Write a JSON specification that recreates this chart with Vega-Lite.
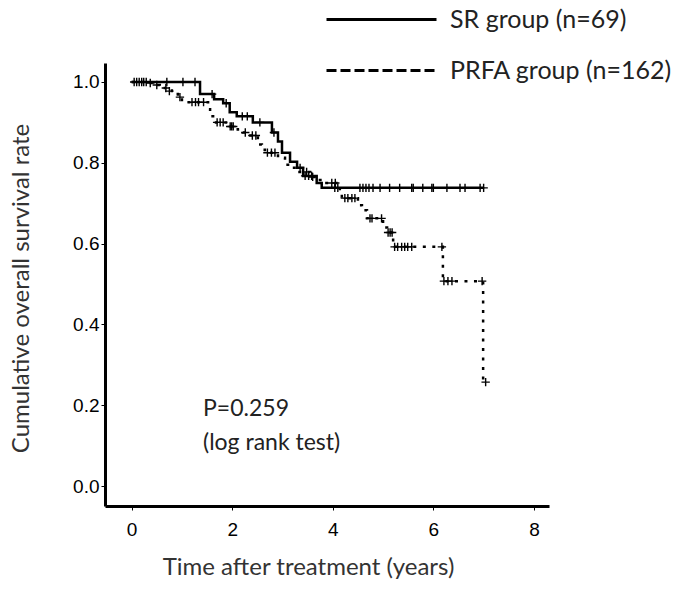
{
  "$schema": "https://vega.github.io/schema/vega-lite/v6.json",
  "width": 444,
  "height": 443,
  "autosize": "none",
  "padding": {"left": 105, "top": 63, "right": 136, "bottom": 84},
  "background": "white",
  "config": {"view": {"stroke": null}},
  "resolve": {"scale": {"strokeDash": "independent"}, "legend": {"strokeDash": "independent"}},
  "datasets": {
    "steps": [
      {"group": "SR group (n=69)", "t": 0, "s": 1.0},
      {"group": "SR group (n=69)", "t": 1.36, "s": 0.97},
      {"group": "SR group (n=69)", "t": 1.64, "s": 0.9575},
      {"group": "SR group (n=69)", "t": 1.82, "s": 0.9475},
      {"group": "SR group (n=69)", "t": 1.95, "s": 0.925},
      {"group": "SR group (n=69)", "t": 2.09, "s": 0.915},
      {"group": "SR group (n=69)", "t": 2.41, "s": 0.9},
      {"group": "SR group (n=69)", "t": 2.79, "s": 0.875},
      {"group": "SR group (n=69)", "t": 2.91, "s": 0.8525},
      {"group": "SR group (n=69)", "t": 2.99, "s": 0.825},
      {"group": "SR group (n=69)", "t": 3.15, "s": 0.8025},
      {"group": "SR group (n=69)", "t": 3.29, "s": 0.7875},
      {"group": "SR group (n=69)", "t": 3.41, "s": 0.7675},
      {"group": "SR group (n=69)", "t": 3.68, "s": 0.75},
      {"group": "SR group (n=69)", "t": 3.78, "s": 0.738},
      {"group": "SR group (n=69)", "t": 7.0, "s": 0.738},
      {"group": "PRFA group (n=162)", "t": 0, "s": 1.0},
      {"group": "PRFA group (n=162)", "t": 0.32, "s": 0.9975},
      {"group": "PRFA group (n=162)", "t": 0.42, "s": 0.9925},
      {"group": "PRFA group (n=162)", "t": 0.56, "s": 0.99},
      {"group": "PRFA group (n=162)", "t": 0.62, "s": 0.985},
      {"group": "PRFA group (n=162)", "t": 0.8, "s": 0.9775},
      {"group": "PRFA group (n=162)", "t": 0.86, "s": 0.97},
      {"group": "PRFA group (n=162)", "t": 0.92, "s": 0.9625},
      {"group": "PRFA group (n=162)", "t": 1.0, "s": 0.95},
      {"group": "PRFA group (n=162)", "t": 1.52, "s": 0.9325},
      {"group": "PRFA group (n=162)", "t": 1.56, "s": 0.915},
      {"group": "PRFA group (n=162)", "t": 1.62, "s": 0.9},
      {"group": "PRFA group (n=162)", "t": 1.91, "s": 0.89},
      {"group": "PRFA group (n=162)", "t": 2.11, "s": 0.8825},
      {"group": "PRFA group (n=162)", "t": 2.21, "s": 0.875},
      {"group": "PRFA group (n=162)", "t": 2.31, "s": 0.8675},
      {"group": "PRFA group (n=162)", "t": 2.51, "s": 0.845},
      {"group": "PRFA group (n=162)", "t": 2.59, "s": 0.8325},
      {"group": "PRFA group (n=162)", "t": 2.65, "s": 0.825},
      {"group": "PRFA group (n=162)", "t": 2.91, "s": 0.8125},
      {"group": "PRFA group (n=162)", "t": 3.05, "s": 0.795},
      {"group": "PRFA group (n=162)", "t": 3.15, "s": 0.7875},
      {"group": "PRFA group (n=162)", "t": 3.3, "s": 0.7775},
      {"group": "PRFA group (n=162)", "t": 3.55, "s": 0.765},
      {"group": "PRFA group (n=162)", "t": 3.65, "s": 0.7575},
      {"group": "PRFA group (n=162)", "t": 3.78, "s": 0.75},
      {"group": "PRFA group (n=162)", "t": 4.14, "s": 0.7225},
      {"group": "PRFA group (n=162)", "t": 4.18, "s": 0.7125},
      {"group": "PRFA group (n=162)", "t": 4.5, "s": 0.695},
      {"group": "PRFA group (n=162)", "t": 4.58, "s": 0.6825},
      {"group": "PRFA group (n=162)", "t": 4.68, "s": 0.6625},
      {"group": "PRFA group (n=162)", "t": 5.0, "s": 0.64},
      {"group": "PRFA group (n=162)", "t": 5.08, "s": 0.6275},
      {"group": "PRFA group (n=162)", "t": 5.2, "s": 0.592},
      {"group": "PRFA group (n=162)", "t": 6.19, "s": 0.507},
      {"group": "PRFA group (n=162)", "t": 6.99, "s": 0.257},
      {"group": "PRFA group (n=162)", "t": 7.03, "s": 0.257}
    ],
    "censors": [
      {"group": "SR", "t": 0.1, "s": 1.0},
      {"group": "SR", "t": 0.2, "s": 1.0},
      {"group": "SR", "t": 0.29, "s": 1.0},
      {"group": "SR", "t": 0.7, "s": 1.0},
      {"group": "SR", "t": 1.02, "s": 1.0},
      {"group": "SR", "t": 1.26, "s": 1.0},
      {"group": "SR", "t": 1.6, "s": 0.97},
      {"group": "SR", "t": 1.88, "s": 0.9475},
      {"group": "SR", "t": 2.2, "s": 0.915},
      {"group": "SR", "t": 2.3, "s": 0.915},
      {"group": "SR", "t": 2.55, "s": 0.9},
      {"group": "SR", "t": 2.83, "s": 0.875},
      {"group": "SR", "t": 3.35, "s": 0.7875},
      {"group": "SR", "t": 3.45, "s": 0.7675},
      {"group": "SR", "t": 3.52, "s": 0.7675},
      {"group": "SR", "t": 3.58, "s": 0.7675},
      {"group": "SR", "t": 4.04, "s": 0.738},
      {"group": "SR", "t": 4.1, "s": 0.738},
      {"group": "SR", "t": 4.54, "s": 0.738},
      {"group": "SR", "t": 4.6, "s": 0.738},
      {"group": "SR", "t": 4.66, "s": 0.738},
      {"group": "SR", "t": 4.72, "s": 0.738},
      {"group": "SR", "t": 4.8, "s": 0.738},
      {"group": "SR", "t": 4.94, "s": 0.738},
      {"group": "SR", "t": 5.13, "s": 0.738},
      {"group": "SR", "t": 5.33, "s": 0.738},
      {"group": "SR", "t": 5.57, "s": 0.738},
      {"group": "SR", "t": 5.6, "s": 0.738},
      {"group": "SR", "t": 5.79, "s": 0.738},
      {"group": "SR", "t": 5.97, "s": 0.738},
      {"group": "SR", "t": 6.0, "s": 0.738},
      {"group": "SR", "t": 6.27, "s": 0.738},
      {"group": "SR", "t": 6.53, "s": 0.738},
      {"group": "SR", "t": 6.63, "s": 0.738},
      {"group": "SR", "t": 6.93, "s": 0.738},
      {"group": "SR", "t": 7.0, "s": 0.738},
      {"group": "PRFA", "t": 0.05, "s": 1.0},
      {"group": "PRFA", "t": 0.15, "s": 1.0},
      {"group": "PRFA", "t": 0.24, "s": 1.0},
      {"group": "PRFA", "t": 0.37, "s": 0.9975},
      {"group": "PRFA", "t": 0.5, "s": 0.9925},
      {"group": "PRFA", "t": 0.68, "s": 0.985},
      {"group": "PRFA", "t": 0.75, "s": 0.9775},
      {"group": "PRFA", "t": 0.96, "s": 0.9625},
      {"group": "PRFA", "t": 1.2, "s": 0.95},
      {"group": "PRFA", "t": 1.27, "s": 0.95},
      {"group": "PRFA", "t": 1.33, "s": 0.95},
      {"group": "PRFA", "t": 1.43, "s": 0.95},
      {"group": "PRFA", "t": 1.7, "s": 0.9},
      {"group": "PRFA", "t": 1.76, "s": 0.9},
      {"group": "PRFA", "t": 1.82, "s": 0.9},
      {"group": "PRFA", "t": 1.96, "s": 0.89},
      {"group": "PRFA", "t": 1.99, "s": 0.89},
      {"group": "PRFA", "t": 2.02, "s": 0.89},
      {"group": "PRFA", "t": 2.26, "s": 0.875},
      {"group": "PRFA", "t": 2.4, "s": 0.8675},
      {"group": "PRFA", "t": 2.47, "s": 0.8675},
      {"group": "PRFA", "t": 2.7, "s": 0.825},
      {"group": "PRFA", "t": 2.78, "s": 0.825},
      {"group": "PRFA", "t": 2.85, "s": 0.825},
      {"group": "PRFA", "t": 3.48, "s": 0.7775},
      {"group": "PRFA", "t": 3.6, "s": 0.765},
      {"group": "PRFA", "t": 3.98, "s": 0.75},
      {"group": "PRFA", "t": 4.05, "s": 0.75},
      {"group": "PRFA", "t": 4.24, "s": 0.7125},
      {"group": "PRFA", "t": 4.3, "s": 0.7125},
      {"group": "PRFA", "t": 4.38, "s": 0.7125},
      {"group": "PRFA", "t": 4.44, "s": 0.7125},
      {"group": "PRFA", "t": 4.74, "s": 0.6625},
      {"group": "PRFA", "t": 4.78, "s": 0.6625},
      {"group": "PRFA", "t": 4.97, "s": 0.6625},
      {"group": "PRFA", "t": 5.1, "s": 0.6275},
      {"group": "PRFA", "t": 5.14, "s": 0.6275},
      {"group": "PRFA", "t": 5.18, "s": 0.6275},
      {"group": "PRFA", "t": 5.23, "s": 0.592},
      {"group": "PRFA", "t": 5.29, "s": 0.592},
      {"group": "PRFA", "t": 5.37, "s": 0.592},
      {"group": "PRFA", "t": 5.43, "s": 0.592},
      {"group": "PRFA", "t": 5.49, "s": 0.592},
      {"group": "PRFA", "t": 5.57, "s": 0.592},
      {"group": "PRFA", "t": 6.17, "s": 0.592},
      {"group": "PRFA", "t": 6.21, "s": 0.507},
      {"group": "PRFA", "t": 6.29, "s": 0.507},
      {"group": "PRFA", "t": 6.37, "s": 0.507},
      {"group": "PRFA", "t": 6.97, "s": 0.507},
      {"group": "PRFA", "t": 7.04, "s": 0.257}
    ],
    "notes": [
      {"label": "P=0.259", "t": 1.42, "s": 0.19},
      {"label": "(log rank test)", "t": 1.42, "s": 0.106}
    ]
  },
  "layer": [
    {
      "data": {"name": "steps"},
      "mark": {"type": "line", "interpolate": "step-after", "color": "black", "strokeWidth": 2.5},
      "encoding": {
        "x": {
          "field": "t", "type": "quantitative",
          "scale": {"domain": [-0.53, 8.3], "nice": false, "zero": false},
          "axis": {
            "title": "Time after treatment (years)",
            "values": [0, 2, 4, 6, 8],
            "grid": false,
            "domainColor": "black", "domainWidth": 3,
            "tickColor": "black", "tickSize": 4, "tickWidth": 1,
            "labelFont": "Liberation Sans", "labelFontSize": 19, "labelColor": "black",
            "labelPadding": 10,
            "titleFont": "Lato", "titleFontSize": 24, "titleFontWeight": "normal", "titleColor": "#333333",
            "titleX": 203, "titleY": 61, "titleAlign": "center", "titleBaseline": "middle"
          }
        },
        "y": {
          "field": "s", "type": "quantitative",
          "scale": {"domain": [-0.0495, 1.047], "nice": false, "zero": false},
          "axis": {
            "title": "Cumulative overall survival rate",
            "values": [0, 0.2, 0.4, 0.6, 0.8, 1.0],
            "format": ".1f",
            "grid": false,
            "domainColor": "black", "domainWidth": 3,
            "tickColor": "black", "tickSize": 4, "tickWidth": 1,
            "labelFont": "Liberation Sans", "labelFontSize": 19, "labelColor": "black",
            "labelPadding": 2,
            "titleFont": "Lato", "titleFontSize": 24, "titleFontWeight": "normal", "titleColor": "#333333",
            "titleX": -84, "titleY": 225, "titleAlign": "center", "titleBaseline": "middle", "titleAngle": -90
          }
        },
        "strokeDash": {
          "field": "group", "type": "nominal",
          "scale": {"domain": ["SR group (n=69)", "PRFA group (n=162)"], "range": [[1, 0], [3, 6.5]]},
          "legend": null
        }
      }
    },
    {
      "data": {"name": "steps"},
      "mark": {"type": "line", "interpolate": "step-after", "color": "black", "strokeWidth": 3, "opacity": 0},
      "encoding": {
        "x": {"field": "t", "type": "quantitative"},
        "y": {"field": "s", "type": "quantitative"},
        "strokeDash": {
          "field": "group", "type": "nominal",
          "scale": {"domain": ["SR group (n=69)", "PRFA group (n=162)"], "range": [[1, 0], [10, 4]]},
          "legend": {
            "title": null,
            "orient": "none",
            "legendX": 264,
            "legendY": -56,
            "symbolType": "M-11,0H11",
            "symbolSize": 100,
            "symbolStrokeWidth": 3,
            "symbolStrokeColor": "black",
            "symbolFillColor": "transparent",
            "symbolOpacity": 1,
            "labelFont": "Lato", "labelFontSize": 25, "labelColor": "#222222",
            "labelOffset": 56,
            "labelLimit": 400,
            "rowPadding": 25
          }
        }
      }
    },
    {
      "data": {"name": "censors"},
      "mark": {"type": "point", "shape": "M-1,0H1M0,-1V1", "size": 70, "filled": false, "color": "black", "strokeWidth": 1.4, "opacity": 1},
      "encoding": {
        "x": {"field": "t", "type": "quantitative"},
        "y": {"field": "s", "type": "quantitative"}
      }
    },
    {
      "data": {"name": "notes"},
      "mark": {"type": "text", "align": "left", "baseline": "middle", "font": "Lato", "fontSize": 23, "color": "#222222"},
      "encoding": {
        "x": {"field": "t", "type": "quantitative"},
        "y": {"field": "s", "type": "quantitative"},
        "text": {"field": "label"}
      }
    }
  ]
}
